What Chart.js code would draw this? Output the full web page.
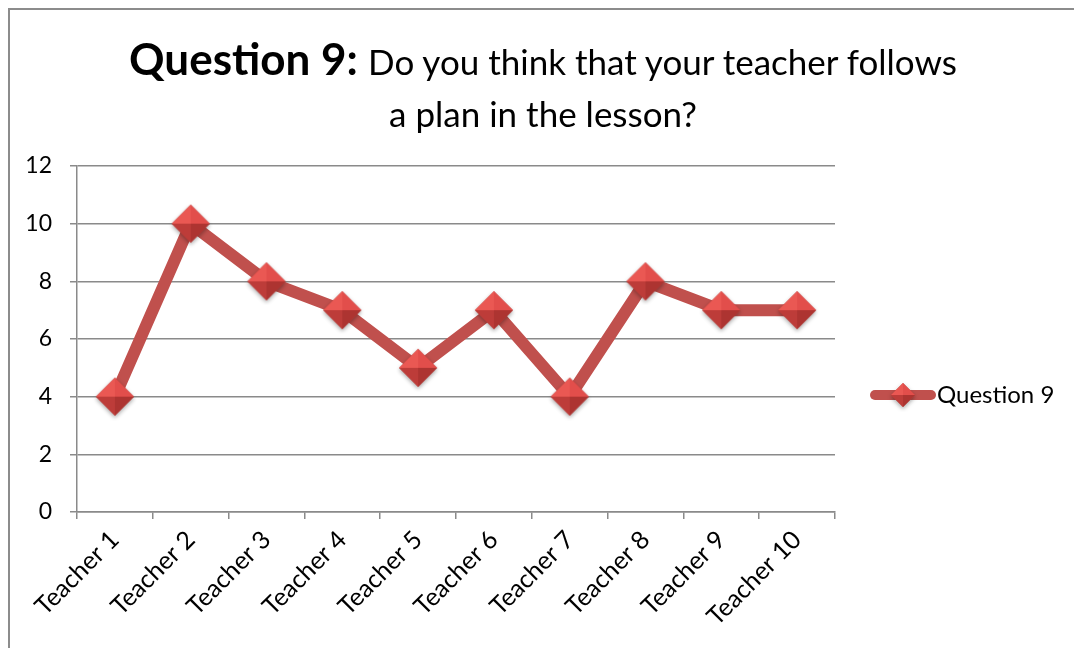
<!DOCTYPE html>
<html>
<head>
<meta charset="utf-8">
<title>Question 9</title>
<script src="https://cdn.jsdelivr.net/npm/chart.js@4.4.1/dist/chart.umd.min.js"></script>
<style>
  html, body { margin: 0; padding: 0; background: #fff; }
  body { width: 1074px; height: 648px; position: relative; overflow: hidden; font-family: Lato, sans-serif; }
  #frame { position: absolute; left: 8px; top: 8px; width: 1090px; height: 660px;
           border-left: 2px solid #8c8c8c; border-top: 2px solid #8c8c8c; }
  #title { position: absolute; left: 10px; width: 1066px; top: 36px; text-align: center;
           line-height: 45px; color: #000; }
  #title b { font-size: 44px; margin-right: 6px; }
  #title span { font-size: 35px; }
  #wrap { position: absolute; left: 0; top: 0; width: 1074px; height: 648px; }
</style>
</head>
<body>
<div id="frame"></div>
<div id="wrap"><canvas id="myChart" width="1074" height="648"></canvas></div>
<div id="title"><b>Question 9:</b> <span>Do you think that your teacher follows<br>a plan in the lesson?</span></div>

<script>
// chart data
const teachers = ['Teacher 1', 'Teacher 2', 'Teacher 3', 'Teacher 4', 'Teacher 5',
                  'Teacher 6', 'Teacher 7', 'Teacher 8', 'Teacher 9', 'Teacher 10'];
const question9 = [4, 10, 8, 7, 5, 7, 4, 8, 7, 7];
const yTicks = [0, 2, 4, 6, 8, 10, 12];
const seriesName = 'Question 9';

const lineColor = '#C0504D';
const gridColor = '#8a8a8a';

// little pyramid shaped diamond, like the excel marker
function makeDiamond(r) {
    const pad = 5;
    const c = document.createElement('canvas');
    c.width = c.height = 2 * r + pad * 2;
    const g = c.getContext('2d');
    const cx = r + pad, cy = r + pad;
    const T = [cx, cy - r], R = [cx + r, cy], B = [cx, cy + r], L = [cx - r, cy];

    g.save();
    g.shadowColor = 'rgba(0,0,0,0.35)';
    g.shadowBlur = 4;
    g.shadowOffsetY = 2;
    g.beginPath();
    g.moveTo(...T); g.lineTo(...R); g.lineTo(...B); g.lineTo(...L); g.closePath();
    g.fillStyle = '#b8403d';
    g.fill();
    g.restore();

    const facets = [
        [T, R, '#e24e4b'],
        [R, B, '#ad3431'],
        [B, L, '#bd3c39'],
        [L, T, '#ea5853']
    ];
    facets.forEach(([a, b, col]) => {
        g.beginPath();
        g.moveTo(cx, cy); g.lineTo(...a); g.lineTo(...b); g.closePath();
        g.fillStyle = col;
        g.fill();
    });
    return c;
}

const bigDiamond = makeDiamond(19);
const smallDiamond = makeDiamond(12);

// legend drawn by hand: thick line + diamond + text
const lineLegend = {
    id: 'lineLegend',
    afterDraw(chart) {
        const ctx = chart.ctx;
        const x0 = chart.chartArea.right + 40;
        const y = 395;
        ctx.save();
        ctx.strokeStyle = lineColor;
        ctx.lineWidth = 10;
        ctx.lineCap = 'round';
        ctx.beginPath();
        ctx.moveTo(x0, y);
        ctx.lineTo(x0 + 56, y);
        ctx.stroke();
        ctx.drawImage(smallDiamond, x0 + 28 - smallDiamond.width / 2, y - smallDiamond.height / 2);
        ctx.fillStyle = '#000';
        ctx.font = '24px Lato';
        ctx.textBaseline = 'middle';
        ctx.fillText(seriesName, x0 + 62, y);
        ctx.restore();
    }
};

const ctx = document.getElementById('myChart');
const chart = new Chart(ctx, {
    type: 'line',
    data: {
        labels: teachers,
        datasets: [{
            label: seriesName,
            data: question9,
            borderColor: lineColor,
            backgroundColor: lineColor,
            borderWidth: 12,
            borderJoinStyle: 'round',
            borderCapStyle: 'round',
            tension: 0,
            pointStyle: bigDiamond,
            pointRadius: 19,
            pointHoverRadius: 19,
            clip: false
        }]
    },
    options: {
        responsive: false,
        animation: false,
        layout: { padding: { top: 166, right: 239, bottom: 0, left: 0 } },
        scales: {
            x: {
                offset: true,
                grid: { offset: true, drawOnChartArea: false, color: gridColor, lineWidth: 1.5, tickLength: 7 },
                border: { color: gridColor, width: 1.5 },
                ticks: { color: '#000', font: { family: 'Lato', size: 25 }, minRotation: 45, maxRotation: 45, padding: 6 },
                afterFit: axis => { axis.height = 136; }
            },
            y: {
                min: 0,
                max: 12,
                afterBuildTicks: axis => { axis.ticks = yTicks.map(v => ({ value: v })); },
                grid: { color: gridColor, lineWidth: 1.5, tickLength: 7 },
                border: { color: gridColor, width: 1.5 },
                ticks: { color: '#000', font: { family: 'Lato', size: 23 }, padding: 18 },
                afterFit: axis => { axis.width = 77; }
            }
        },
        plugins: {
            legend: { display: false },
            title: { display: false },
            tooltip: { enabled: false }
        }
    },
    plugins: [lineLegend]
});
</script>
</body>
</html>
